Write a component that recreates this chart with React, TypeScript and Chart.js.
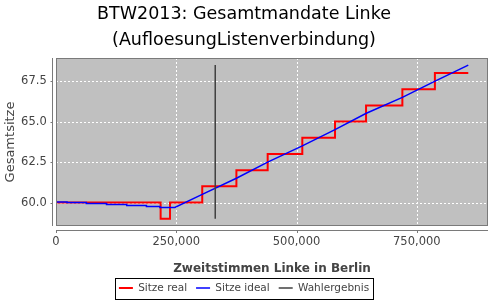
import { useEffect, useRef } from 'react';
import { Chart, registerables } from 'chart.js';

Chart.register(...registerables);

const titleLines = ['BTW2013: Gesamtmandate Linke', '(AufloesungListenverbindung)'];
const xAxisTitle = 'Zweitstimmen Linke in Berlin';
const yAxisTitle = 'Gesamtsitze';
const seriesNames = ['Sitze real', 'Sitze ideal', 'Wahlergebnis'];

// Sitze real (step changes)
const realVotes = [0, 217500, 237000, 304000, 375000, 440000, 512000, 580000, 644500, 720000, 787600, 857000];
const realSeats = [60, 59, 60, 61, 62, 63, 64, 65, 66, 67, 68, 68];

// Sitze ideal
const idealVotes = [0, 23000, 23000, 63000, 63000, 105000, 105000, 147000, 147000, 188000, 188000, 216000, 216000, 247000, 304000, 375000, 440000, 512000, 580000, 644000, 720000, 788000, 857000];
const idealSeats = [60.04, 60.04, 60.0, 60.0, 59.94, 59.94, 59.88, 59.88, 59.81, 59.81, 59.75, 59.75, 59.69, 59.69, 60.5, 61.5, 62.5, 63.5, 64.5, 65.5, 66.5, 67.5, 68.49];

// Wahlergebnis
const resultVotes = [331000, 331000];
const resultSeats = [59.0, 68.5];

const xTicks = [0, 250000, 500000, 750000];
const yTicks = [60, 62.5, 65, 67.5];
const xRange = [0, 898000];
const yRange = [58.55, 68.93];

const FONT = 'DejaVu Sans';
const PLOT_LEFT = 56;
const PLOT_BOTTOM = 226;

const framePlugin = {
  id: 'frame',
  beforeDraw(chart: any) {
    const { ctx, chartArea: a } = chart;
    ctx.save();
    ctx.fillStyle = '#c0c0c0';
    ctx.fillRect(a.left, a.top, a.right - a.left, a.bottom - a.top);
    ctx.restore();
  },
  beforeDatasetsDraw(chart: any) {
    const { ctx, chartArea: a, scales } = chart;
    ctx.save();
    ctx.strokeStyle = '#ffffff';
    ctx.lineWidth = 1;
    ctx.setLineDash([2, 2]);
    ctx.beginPath();
    for (const t of scales.x.ticks) {
      const px = Math.round(scales.x.getPixelForValue(t.value)) + 0.5;
      if (px <= a.left + 1) continue;
      ctx.moveTo(px, a.top);
      ctx.lineTo(px, a.bottom);
    }
    for (const t of scales.y.ticks) {
      const py = Math.round(scales.y.getPixelForValue(t.value)) + 0.5;
      ctx.moveTo(a.left, py);
      ctx.lineTo(a.right, py);
    }
    ctx.stroke();
    ctx.restore();
  },
  afterDraw(chart: any) {
    const { ctx, chartArea: a, scales } = chart;
    ctx.save();
    ctx.strokeStyle = '#7a7a7a';
    ctx.lineWidth = 1;
    ctx.strokeRect(a.left + 0.5, a.top + 0.5, a.right - a.left - 1, a.bottom - a.top - 1);
    ctx.beginPath();
    const ax = Math.round(a.left) - 3.5;
    ctx.moveTo(ax, a.top);
    ctx.lineTo(ax, a.bottom);
    for (const t of scales.y.ticks) {
      const py = Math.round(scales.y.getPixelForValue(t.value)) + 0.5;
      ctx.moveTo(ax - 2, py);
      ctx.lineTo(ax, py);
    }
    const ay = Math.round(a.bottom) + 4.5;
    ctx.moveTo(a.left, ay);
    ctx.lineTo(a.right, ay);
    for (const t of scales.x.ticks) {
      const px = Math.round(scales.x.getPixelForValue(t.value)) + 0.5;
      ctx.moveTo(px, ay);
      ctx.lineTo(px, ay + 2.5);
    }
    ctx.stroke();
    const lg = chart.legend;
    if (lg && lg.legendHitBoxes && lg.legendHitBoxes.length) {
      const hb = lg.legendHitBoxes;
      const left = Math.min(...hb.map((h: any) => h.left)) - 4;
      const right = Math.max(...hb.map((h: any) => h.left + h.width)) + 4;
      const cy = hb[0].top + hb[0].height / 2;
      ctx.strokeStyle = '#000';
      ctx.strokeRect(Math.round(left) + 0.5, Math.round(cy - 10.5) + 0.5, Math.round(right - left), 21);
    }
    ctx.restore();
  },
};

export default function App() {
  const ref = useRef<HTMLCanvasElement | null>(null);
  useEffect(() => {
    if (!ref.current) return;
    const toPts = (xs: number[], ys: number[]) => xs.map((x, i) => ({ x, y: ys[i] }));
    const chart = new Chart(ref.current, {
      type: 'line',
      data: {
        datasets: [
          {
            label: seriesNames[0],
            data: toPts(realVotes, realSeats),
            borderColor: '#ff0000',
            backgroundColor: '#ff0000',
            borderWidth: 2,
            pointRadius: 0,
            stepped: 'before',
            order: 2,
          },
          {
            label: seriesNames[1],
            data: toPts(idealVotes, idealSeats),
            borderColor: '#0000ff',
            backgroundColor: '#0000ff',
            borderWidth: 1.5,
            pointRadius: 0,
            order: 1,
          },
          {
            label: seriesNames[2],
            data: toPts(resultVotes, resultSeats),
            borderColor: '#404040',
            backgroundColor: '#404040',
            borderWidth: 1.5,
            pointRadius: 0,
            order: 0,
          },
        ],
      },
      options: {
        animation: false,
        responsive: false,
        layout: { padding: { left: 0, right: 12, top: 0, bottom: 0 } },
        plugins: {
          title: {
            display: true,
            text: titleLines,
            color: '#000',
            font: { family: FONT, size: 17.5, weight: 'normal', lineHeight: '26px' },
            padding: { top: 1.6, bottom: 4.4 },
          },
          legend: {
            display: true,
            position: 'bottom',
            maxHeight: 26.25,
            labels: {
              usePointStyle: true,
              pointStyle: 'line',
              pointStyleWidth: 14,
              padding: 9,
              color: '#444',
              font: { family: FONT, size: 10.5 },
              sort: (a: any, b: any) => a.datasetIndex - b.datasetIndex,
            },
          },
          tooltip: { enabled: false },
        },
        scales: {
          x: {
            type: 'linear',
            min: xRange[0],
            max: xRange[1],
            afterBuildTicks: (s: any) => { s.ticks = xTicks.map((v) => ({ value: v })); },
            afterFit: (s: any) => {
              const c = s.chart;
              s.height = c.height - (c.legend ? c.legend.height : 0) - PLOT_BOTTOM;
            },
            border: { display: false },
            grid: { display: false, drawTicks: false },
            ticks: {
              padding: 9.5,
              color: '#444',
              font: { family: FONT, size: 11.5 },
              callback: (v: any) => Number(v).toLocaleString('en-US'),
            },
            title: {
              display: true,
              text: xAxisTitle,
              color: '#444',
              font: { family: FONT, size: 12, weight: 'bold', lineHeight: 1.2 },
              padding: { top: 0, bottom: -2.45 },
            },
          },
          y: {
            type: 'linear',
            min: yRange[0],
            max: yRange[1],
            afterBuildTicks: (s: any) => { s.ticks = yTicks.map((v) => ({ value: v })); },
            afterFit: (s: any) => { s.width = PLOT_LEFT; },
            border: { display: false },
            grid: { display: false, drawTicks: false },
            ticks: {
              padding: 9.3,
              color: '#444',
              font: { family: FONT, size: 11.5 },
              callback: (v: any) => Number(v).toFixed(1),
            },
            title: {
              display: true,
              text: yAxisTitle,
              color: '#444',
              font: { family: FONT, size: 13, weight: 'normal', lineHeight: 1.2 },
              padding: { top: 2.7, bottom: 0 },
            },
          },
        },
      } as any,
      plugins: [framePlugin],
    });
    return () => chart.destroy();
  }, []);
  return (
    <div style={{ position: 'absolute', left: 0, top: 0, width: 500, height: 300, background: '#fff' }}>
      <canvas ref={ref} width={500} height={300} style={{ display: 'block' }} />
    </div>
  );
}
